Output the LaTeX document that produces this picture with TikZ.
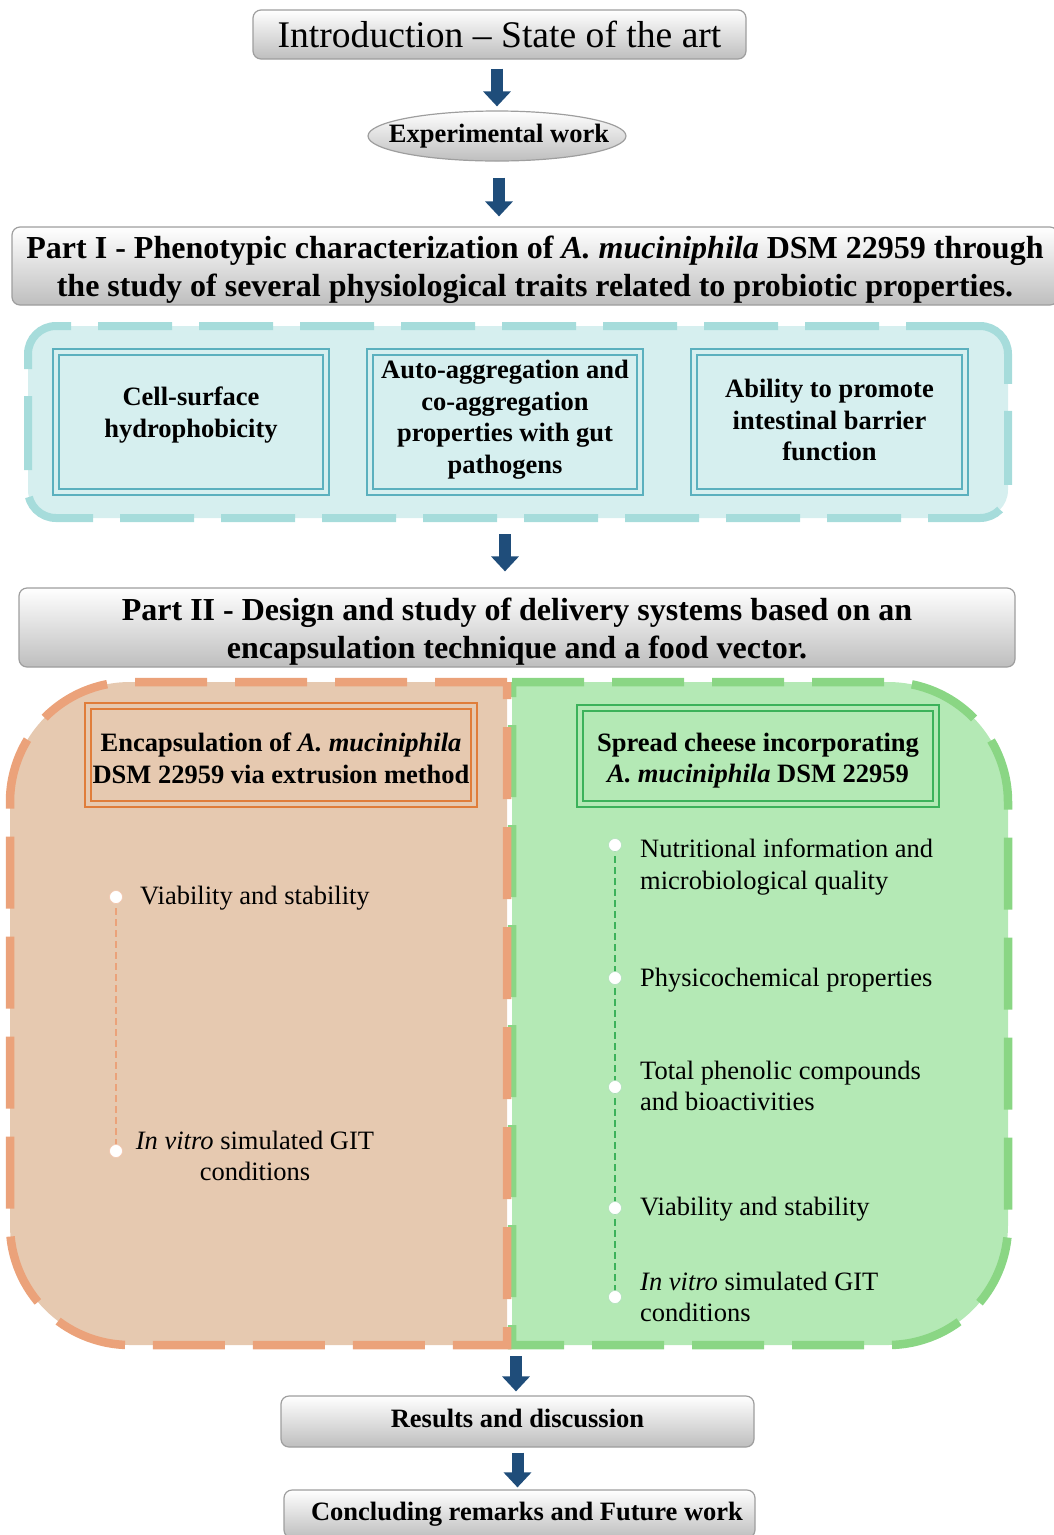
\documentclass[tikz,border=0pt]{standalone}
\usepackage{fontspec}
\setmainfont{Liberation Serif}
\usetikzlibrary{arrows.meta,shapes.geometric}

\definecolor{arrowblue}{HTML}{1F4D7A}
\definecolor{boxgray}{HTML}{9E9E9E}
\definecolor{shadegray}{HTML}{BEBEBE}
\definecolor{tealfill}{HTML}{D6EFEF}
\definecolor{tealdash}{HTML}{A6DCDB}
\definecolor{tealline}{HTML}{5BB0BE}
\definecolor{orangefill}{HTML}{E6C9B0}
\definecolor{orangedash}{HTML}{EBA27A}
\definecolor{orangeline}{HTML}{E07D3A}
\definecolor{greenfill}{HTML}{B4E9B5}
\definecolor{greendash}{HTML}{8AD684}
\definecolor{greenline}{HTML}{3CB25A}

\newcommand\introfont{\fontsize{37.6}{45}\selectfont}
\newcommand\titlefont{\fontsize{32}{38}\selectfont\bfseries}
\newcommand\bodyfont{\fontsize{26.5}{31.5}\selectfont}
% pushes a centred block of lines down (first line) or up (last line)
\newcommand\pushdown[1]{\rule{0pt}{#1}}
\newcommand\pushup[1]{\rule[-#1]{0pt}{1pt}}

\tikzset{
  graybox/.style={draw=boxgray, line width=1.2pt, rounded corners=8pt,
    top color=white, bottom color=shadegray, inner sep=0pt, align=center},
  grayoval/.style={ellipse, draw=boxgray, line width=1.2pt,
    top color=white, bottom color=shadegray, inner sep=0pt},
  blockarrow/.style={draw=arrowblue, line width=12pt,
    -{Triangle[width=27pt,length=15pt]}},
  tealzone/.style={draw=tealdash, fill=tealfill, line width=8pt,
    dash pattern=on 74pt off 27pt, rounded corners=28pt},
  dbox/.style={line width=1.6pt, double distance=4pt, inner sep=0pt,
    align=center, font=\bodyfont\bfseries},
  tealbox/.style={dbox, draw=tealline, double=tealfill},
  zone/.style={line width=8.5pt, dash pattern=on 72pt off 28pt},
  stem/.style={line width=1.4pt, dash pattern=on 7pt off 4pt},
  dot/.style={circle, fill=white, minimum size=13pt, inner sep=0pt,
    line width=0.6pt},
  item/.style={anchor=west, align=left, font=\bodyfont, inner sep=0pt}
}

\begin{document}
\begin{tikzpicture}[x=1pt,y=-1pt]
\useasboundingbox (0,0) rectangle (1053,1535);

% introduction and experimental work
\node[graybox, font=\introfont, minimum width=493pt, minimum height=49pt]
  (intro) at (499.5,34.5) {Introduction \textendash{} State of the art};
\node[grayoval, minimum width=258pt, minimum height=50pt] (exp) at (497,136) {};
\node[font=\bodyfont\bfseries, inner sep=0pt] (exptext) at (499,136) {Experimental work};

% part I
\node[graybox, font=\titlefont, minimum width=1046pt, minimum height=78pt]
  (part1) at (535,266) {\pushdown{30pt}Part I - Phenotypic characterization of \textit{A. muciniphila} DSM 22959 through\\
  the study of several physiological traits related to probiotic properties.};

\draw[blockarrow, shorten <=9pt, shorten >=4pt]
  (intro.south -| exp.north) -- (exp.north);
\draw[blockarrow, shorten <=16pt, shorten >=10pt]
  ([xshift=2pt]exp.south) -- ([xshift=2pt]exp.south |- part1.north);

\node[tealzone, minimum width=980pt, minimum height=192pt] (zone1) at (518,422) {};
\node[tealbox, minimum width=270pt, minimum height=140pt] (hydro) at (191,422)
  {Cell-surface\\hydrophobicity\pushup{20pt}};
\node[tealbox, minimum width=270pt, minimum height=140pt] (aggr) at (505,422)
  {Auto-aggregation and\\co-aggregation\\properties with gut\\pathogens\pushup{10pt}};
\node[tealbox, minimum width=271pt, minimum height=140pt] (barrier) at (829.5,422)
  {Ability to promote\\intestinal barrier\\function\pushup{4pt}};

% part II
\node[graybox, font=\titlefont, minimum width=996pt, minimum height=79pt]
  (part2) at (517,627.5) {\pushdown{30pt}Part II - Design and study of delivery systems based on an\\
  encapsulation technique and a food vector.};

\draw[blockarrow, shorten <=12pt, shorten >=16pt]
  ([xshift=-13pt]zone1.south) -- ([xshift=-13pt]zone1.south |- part2.north);

% the two halves
\draw[zone, draw=greendash, fill=greenfill] (512,682) -- (888,682)
  arc[start angle=-90, end angle=0, radius=120] -- (1008,1225)
  arc[start angle=0, end angle=90, radius=120] -- (512,1345) -- cycle;
\draw[zone, draw=orangedash, fill=orangefill] (507,682) -- (130,682)
  arc[start angle=-90, end angle=-180, radius=120] -- (10,1225)
  arc[start angle=180, end angle=90, radius=120] -- (507,1345) -- cycle;
\coordinate (zone2s) at (516,1345);

\node[dbox, draw=orangeline, double=orangefill, minimum width=386pt, minimum height=98pt]
  (encap) at (281,755) {\pushdown{25pt}Encapsulation of \textit{A. muciniphila}\\DSM 22959 via extrusion method};
\node[dbox, draw=greenline, double=greenfill, minimum width=356pt, minimum height=96pt]
  (cheese) at (758,756) {\pushdown{28pt}Spread cheese incorporating\\\textit{A. muciniphila} DSM 22959};

% encapsulation steps
\coordinate (o1) at (116,897);
\coordinate (o2) at (116,1151);
\draw[stem, draw=orangedash] (o1) -- (o2);
\foreach \p in {o1,o2} \node[dot, draw=orangedash!60] at (\p) {};
\node[item] (oviab) at (140,898) {Viability and stability};
\node[item, anchor=center, align=center] (ogit) at (255,1156)
  {\textit{In vitro} simulated GIT\\conditions};

% spread cheese steps
\coordinate (g1) at (615,845);
\coordinate (g2) at (615,978);
\coordinate (g3) at (615,1087);
\coordinate (g4) at (615,1208);
\coordinate (g5) at (615,1297);
\draw[stem, draw=greenline] (g1) -- (g5);
\foreach \p in {g1,g2,g3,g4,g5} \node[dot, draw=greenline!40] at (\p) {};
\node[item] (gnutri) at (640,867) {Nutritional information and\\microbiological quality};
\node[item] (gphys) at (640,980) {Physicochemical properties};
\node[item] (gphen) at (640,1086) {Total phenolic compounds\\and bioactivities};
\node[item] (gviab) at (640,1209) {Viability and stability};
\node[item] (ggit) at (640,1297) {\textit{In vitro} simulated GIT\\conditions};

% results and conclusions
\node[graybox, font=\bodyfont\bfseries, minimum width=473pt, minimum height=51pt]
  (results) at (517.5,1421.5) {Results and discussion\pushup{6pt}};
\node[graybox, font=\bodyfont\bfseries, minimum width=471pt, minimum height=48pt]
  (concl) at (519.5,1514) {\hspace*{15pt}Concluding remarks and Future work};

\draw[blockarrow, shorten <=11pt, shorten >=4pt] (zone2s) -- (zone2s |- results.north);
\draw[blockarrow, shorten <=5pt, shorten >=2pt]
  (results.south) -- (results.south |- concl.north);
\end{tikzpicture}
\end{document}
